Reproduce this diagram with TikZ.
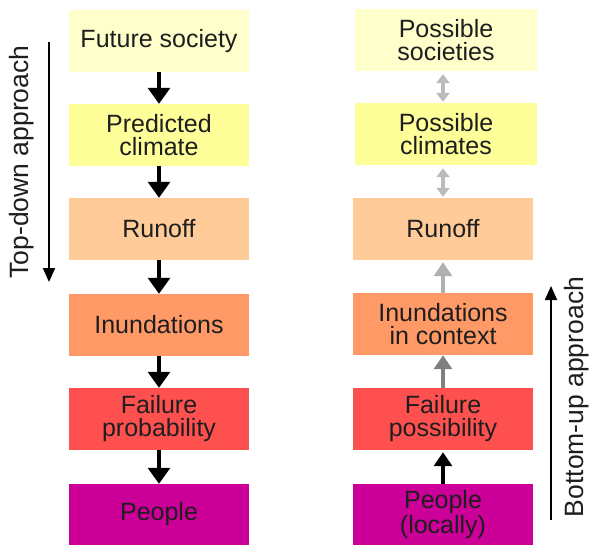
\documentclass[tikz,border=0pt]{standalone}
\usepackage{fontspec}
\setmainfont{Liberation Sans}
\usetikzlibrary{arrows.meta}
\definecolor{cA}{HTML}{FFFFCC}
\definecolor{cB}{HTML}{FFFF99}
\definecolor{cC}{HTML}{FFCC99}
\definecolor{cD}{HTML}{FF9966}
\definecolor{cE}{HTML}{FF5050}
\definecolor{cF}{HTML}{CC0099}
\definecolor{txt}{HTML}{1E1E1E}
\definecolor{lgray}{HTML}{BBBBBB}
\definecolor{mgray}{HTML}{B0B0B0}
\definecolor{dgray}{HTML}{808080}
\tikzset{
  box/.style={draw=none, inner sep=0pt, align=center, text=txt,
    font=\fontsize{25}{23}\selectfont},
  lbox/.style={box, minimum width=180pt, minimum height=62pt},
  rboxw/.style={box, minimum width=182pt, minimum height=62pt},
  rbox/.style={box, minimum width=180pt, minimum height=62pt},
  downarr/.style={line width=3.2pt, -{Triangle[width=22pt,length=16pt]}},
  uparr/.style={line width=3.2pt, -{Triangle[width=18pt,length=14pt]}},
  dblarr/.style={line width=4pt, lgray, {Triangle[width=13pt,length=9pt]}-{Triangle[width=13pt,length=9pt]}},
  sidearr/.style={line width=1.8pt, -{Triangle[width=12pt,length=14pt]}},
  sidelabel/.style={rotate=90, text=txt, font=\fontsize{26.5}{28}\selectfont}
}
\begin{document}
\begin{tikzpicture}[x=1pt,y=-1pt]
\useasboundingbox (0,0) rectangle (591,545);
% left column
\node[lbox, fill=cA] (l1) at (159,41) {Future society};
\node[lbox, fill=cB] (l2) at (159,135) {Predicted\\climate};
\node[lbox, fill=cC] (l3) at (159,229) {Runoff};
\node[lbox, fill=cD] (l4) at (159,325) {Inundations};
\node[lbox, fill=cE] (l5) at (159,419) {Failure\\probability};
\node[lbox, fill=cF, minimum height=61pt] (l6) at (159,514.5) {People};
\draw[downarr] (l1.south) -- (l2.north);
\draw[downarr] (l2.south) -- (l3.north);
\draw[downarr] (l3.south) -- (l4.north);
\draw[downarr] (l4.south) -- (l5.north);
\draw[downarr] (l5.south) -- (l6.north);
% right column
\node[rboxw, fill=cA] (r1) at (446,40) {Possible\\societies};
\node[rboxw, fill=cB] (r2) at (446,134) {Possible\\climates};
\node[rbox, fill=cC] (r3) at (443,229) {Runoff};
\node[rbox, fill=cD] (r4) at (443,324) {Inundations\\in context};
\node[rbox, fill=cE] (r5) at (443,419) {Failure\\possibility};
\node[rbox, fill=cF, minimum height=61pt] (r6) at (443,514.5) {People\\(locally)};
\draw[dblarr, shorten <=3pt, shorten >=1pt] ([xshift=-3pt]r1.south) -- ([xshift=-3pt]r2.north);
\draw[dblarr, shorten <=3pt, shorten >=1pt] ([xshift=-3pt]r2.south) -- ([xshift=0pt]r3.north);
\draw[uparr, mgray, shorten >=2pt] (r4.north) -- (r3.south);
\draw[uparr, dgray] (r5.north) -- (r4.south);
\draw[uparr, black, shorten >=2pt] (r6.north) -- (r5.south);
% side arrows
\coordinate (tdA) at (49,42);
\coordinate (tdB) at (49,282);
\draw[sidearr] (tdA) -- (tdB);
\node[sidelabel] (tdl) at (22,162) {Top-down approach};
\coordinate (buA) at (551,520);
\coordinate (buB) at (551,286);
\draw[sidearr] (buA) -- (buB);
\node[sidelabel] (bul) at (577,397) {Bottom-up approach};
\end{tikzpicture}
\end{document}
